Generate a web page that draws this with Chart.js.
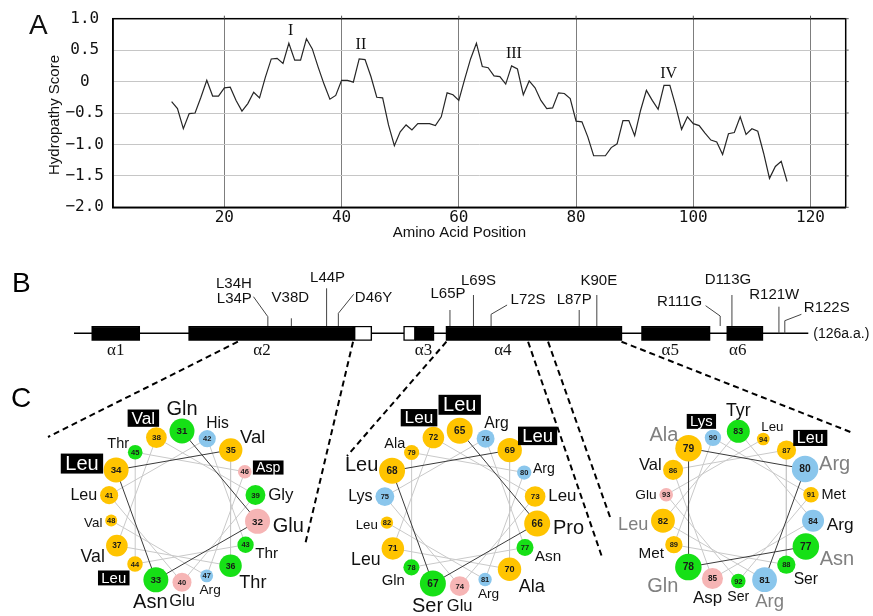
<!DOCTYPE html>
<html><head><meta charset="utf-8">
<script src="https://cdn.jsdelivr.net/npm/chart.js@4.4.1/dist/chart.umd.min.js"></script>
<style>
html,body{margin:0;padding:0;background:#fff;width:873px;height:616px;overflow:hidden;}
canvas{position:absolute;}
</style></head><body>
<canvas id="cA" width="873" height="250" style="left:0;top:0"></canvas>
<canvas id="cB" width="873" height="361" style="left:0;top:255px"></canvas>
<canvas id="cW1" width="280" height="231" style="left:40px;top:385px"></canvas>
<canvas id="cW2" width="280" height="231" style="left:320px;top:385px"></canvas>
<canvas id="cW3" width="273" height="231" style="left:600px;top:385px"></canvas>
<script>
// ---------------- Panel A : hydropathy plot ----------------
const positions = [11,12,13,14,15,16,17,18,19,20,21,22,23,24,25,26,27,28,29,30,
  31,32,33,34,35,36,37,38,39,40,41,42,43,44,45,46,47,48,49,50,
  51,52,53,54,55,56,57,58,59,60,61,62,63,64,65,66,67,68,69,70,
  71,72,73,74,75,76,77,78,79,80,81,82,83,84,85,86,87,88,89,90,
  91,92,93,94,95,96,97,98,99,100,101,102,103,104,105,106,107,108,109,110,
  111,112,113,114,115,116];
const hydropathy = [-0.32,-0.43,-0.75,-0.51,-0.50,-0.25,0.02,-0.23,-0.23,-0.10,
  -0.09,-0.30,-0.47,-0.35,-0.17,-0.26,0.07,0.36,0.37,0.29,
  0.61,0.34,0.34,0.68,0.52,0.23,-0.04,-0.28,-0.22,0.02,
  0.02,-0.01,0.36,0.35,0.08,-0.25,-0.26,-0.69,-1.02,-0.80,
  -0.69,-0.77,-0.67,-0.67,-0.67,-0.70,-0.56,-0.18,-0.21,-0.30,
  0.04,0.36,0.61,0.24,0.22,0.09,0.08,-0.04,0.25,0.20,
  -0.21,0.01,-0.10,-0.30,-0.43,-0.42,-0.18,-0.19,-0.27,-0.63,
  -0.64,-0.88,-1.18,-1.18,-1.18,-1.05,-0.99,-0.62,-0.62,-0.86,
  -0.46,-0.14,-0.30,-0.44,-0.06,-0.06,-0.39,-0.76,-0.56,-0.67,
  -0.70,-0.82,-0.93,-0.96,-1.16,-0.83,-0.81,-0.56,-0.84,-0.75,
  -0.79,-1.14,-1.54,-1.35,-1.27,-1.59];
const xTicks = [20,40,60,80,100,120];
const yTicks = [1.0,0.5,0,-0.5,-1.0,-1.5,-2.0];
const peakLabels = ['I','II','III','IV'];
const peakPos = [31.3,43.3,69.4,95.8];
const peakVal = [0.81,0.585,0.44,0.13];
const xTitle = 'Amino Acid Position';
const yTitle = 'Hydropathy Score';

// ---------------- Panel B : domain map ----------------
const chainLength = 126;
const helixNames = ['α1','α2','α3','α4','α5','α6'];
const helixStart = [4,20.5,59.1,64.3,97.6,112.1];
const helixEnd = [12.2,48.7,62.3,94.3,109.3,118.3];
const openStart = [48.7,57.1];
const openEnd = [51.7,59.1];
const mutations = ['L34H','L34P','V38D','L44P','D46Y','L65P','L69S','L72S','L87P','K90E','R111G','D113G','R121W','R122S'];

// ---------------- Panel C : helical wheels ----------------
const wheel1First = 31;
const wheel1Names = ['Gln','Glu','Asn','Leu','Val','Thr','Val','Val','Gly','Glu','Leu','His','Thr','Leu','Thr','Asp','Arg','Val'];
const wheel2First = 65;
const wheel2Names = ['Leu','Pro','Ser','Leu','Leu','Ala','Leu','Leu','Leu','Glu','Lys','Arg','Asn','Gln','Ala','Arg','Arg','Leu'];
const wheel3First = 77;
const wheel3Names = ['Asn','Gln','Ala','Arg','Arg','Leu','Tyr','Arg','Asp','Val','Leu','Ser','Met','Lys','Met','Ser','Glu','Leu'];

// ---------------- styles ----------------
const SANS = '"Liberation Sans", Arial, sans-serif';
const SERIF = '"Liberation Serif", "Times New Roman", serif';
const MONO = '"DejaVu Sans Mono", monospace';
const classColor = {h:'#FFC400', p:'#16E016', a:'#F6B5B5', b:'#8AC6EC'};
const residueClass = {Leu:'h',Val:'h',Ala:'h',Pro:'h',Met:'h',Ile:'h',Phe:'h',
  Gln:'p',Asn:'p',Thr:'p',Gly:'p',Ser:'p',Tyr:'p',Glu:'a',Asp:'a',Arg:'b',Lys:'b',His:'b'};
const mutResidues = mutations.map(m => parseInt(m.slice(1), 10));

Chart.defaults.font.family = SANS;

// ---------- Chart A ----------
const frameA = {
  id: 'frameA',
  afterDraw(chart) {
    const {ctx, chartArea: a, scales: {x, y}} = chart;
    ctx.save();
    ctx.strokeStyle = '#000'; ctx.lineWidth = 1.5;
    ctx.strokeRect(a.left, a.top, a.right - a.left, a.bottom - a.top);
    ctx.lineWidth = 1; ctx.strokeStyle = '#555';
    xTicks.forEach(v => { const px = x.getPixelForValue(v); ctx.beginPath(); ctx.moveTo(px, a.top - 3); ctx.lineTo(px, a.top); ctx.stroke(); });
    yTicks.forEach(v => { const py = y.getPixelForValue(v); ctx.beginPath(); ctx.moveTo(a.right, py); ctx.lineTo(a.right + 3, py); ctx.stroke(); });
    ctx.fillStyle = '#111'; ctx.font = '15px ' + SANS;
    ctx.textAlign = 'center'; ctx.textBaseline = 'middle';
    ctx.fillText(xTitle, (a.left + a.right) / 2 - 20, 233);
    ctx.save(); ctx.translate(55, (a.top + a.bottom) / 2 + 2); ctx.rotate(-Math.PI / 2);
    ctx.fillText(yTitle, 0, 0); ctx.restore();
    ctx.font = '16px ' + SERIF;
    peakLabels.forEach((t, i) => ctx.fillText(t, x.getPixelForValue(peakPos[i]), y.getPixelForValue(peakVal[i])));
    ctx.font = '28px ' + SANS; ctx.textAlign = 'left';
    ctx.fillText('A', 29, 26);
    ctx.restore();
  }
};

new Chart(document.getElementById('cA'), {
  type: 'line',
  data: {datasets: [{
    data: positions.map((p, i) => ({x: p, y: hydropathy[i]})),
    borderColor: '#262626', borderWidth: 1.2, pointRadius: 0, tension: 0, fill: false
  }]},
  options: {
    responsive: false, animation: false, devicePixelRatio: 1,
    layout: {padding: {left: 0, top: 18.7, right: 27.3, bottom: 12.7}},
    plugins: {legend: {display: false}, tooltip: {enabled: false}},
    scales: {
      x: {type: 'linear', min: 1, max: 126,
        afterBuildTicks: s => { s.ticks = xTicks.map(v => ({value: v})); },
        afterFit: s => { s.height = 30; },
        grid: {color: '#7d7d7d', lineWidth: 1, drawTicks: false},
        border: {display: true, color: '#000', width: 1.5},
        ticks: {padding: 1, color: '#111', font: {family: MONO, size: 16}}},
      y: {type: 'linear', min: -2, max: 1,
        afterBuildTicks: s => { s.ticks = yTicks.map(v => ({value: v})); },
        afterFit: s => { s.width = 113; },
        grid: {color: '#c6c6c6', lineWidth: 1, drawTicks: false},
        border: {display: true, color: '#000', width: 1.5},
        ticks: {crossAlign: 'center', padding: 9, color: '#111', font: {family: MONO, size: 16},
          callback: v => v === 0 ? '0' : v.toFixed(1).replace('-', '−')}}
    }
  },
  plugins: [frameA]
});

// ---------- Chart B ----------
// label layout for each mutated residue (canvas px, style only)
const markerStyle = {
  34: {stem: 61.7, leader: [-14.4, 41.7], text: [-16, [29, 44]], align: 'right'},
  38: {stem: 63.3, text: [-1, [42.8]], align: 'center'},
  44: {stem: 33.3, text: [1, [23.3]], align: 'center'},
  46: {stem: 58.3, leader: [15.3, 39.3], text: [16.5, [42.8]], align: 'left'},
  65: {stem: 55, text: [-2, [39]], align: 'center'},
  69: {stem: 40, text: [5, [26]], align: 'center'},
  72: {stem: 59.3, leader: [16, 50], text: [19.5, [45]], align: 'left'},
  87: {stem: 55, text: [-5, [45]], align: 'center'},
  90: {stem: 40, text: [2, [26]], align: 'center'},
  111: {stem: 61, leader: [-14.6, 50.7], text: [-18, [46.7]], align: 'right'},
  113: {stem: 40, text: [-4, [25]], align: 'center'},
  121: {stem: 51.7, onLine: true, text: [-4.7, [40]], align: 'center'},
  122: {stem: 65.7, onLine: true, leader: [16.6, 59.3], text: [19, [53.3]], align: 'left'}
};
const helixLabelAt = [8.1, 33, 60.5, 74, 102.5, 114];
const dashStart = [28.9, 48.5, 64.4, 78.3, 81.7, 94.2];
const dashEnd = [[48, 182], [305, 290], [347, 201], [602, 302], [610, 262], [853, 178]];

const boxes = [];
const boxColors = [];
helixStart.forEach((s, i) => { boxes.push({x: [s, helixEnd[i]], y: 'chain'}); boxColors.push('#000'); });
openStart.forEach((s, i) => { boxes.push({x: [s, openEnd[i]], y: 'chain'}); boxColors.push('#fff'); });

const chainPlugin = {
  id: 'chain',
  beforeDatasetsDraw(chart) {
    const {ctx, chartArea: a, scales: {x}} = chart;
    const yc = (a.top + a.bottom) / 2;
    ctx.save(); ctx.strokeStyle = '#000'; ctx.lineWidth = 1.5;
    ctx.beginPath(); ctx.moveTo(x.getPixelForValue(1), yc); ctx.lineTo(x.getPixelForValue(chainLength), yc); ctx.stroke();
    ctx.restore();
  },
  afterDatasetsDraw(chart) {
    const {ctx, chartArea: a, scales: {x}} = chart;
    const yc = (a.top + a.bottom) / 2;
    ctx.save();
    const groups = {};
    mutations.forEach((m, i) => { (groups[mutResidues[i]] = groups[mutResidues[i]] || []).push(m); });
    ctx.font = '15px ' + SANS; ctx.textBaseline = 'middle'; ctx.fillStyle = '#111';
    Object.keys(groups).forEach(k => {
      const st = markerStyle[k]; const px = x.getPixelForValue(+k);
      ctx.strokeStyle = '#444'; ctx.lineWidth = 1;
      ctx.beginPath(); ctx.moveTo(px, st.onLine ? yc : a.top); ctx.lineTo(px, st.stem);
      if (st.leader) ctx.lineTo(px + st.leader[0], st.leader[1]);
      ctx.stroke();
      ctx.textAlign = st.align;
      groups[k].forEach((t, j) => ctx.fillText(t, px + st.text[0], st.text[1][j]));
    });
    ctx.font = '14px ' + SANS; ctx.textAlign = 'left';
    ctx.fillText('(' + chainLength + 'a.a.)', x.getPixelForValue(chainLength) + 5, yc + 1);
    ctx.font = '17px ' + SERIF; ctx.textAlign = 'center';
    helixNames.forEach((n, i) => ctx.fillText(n, x.getPixelForValue(helixLabelAt[i]), a.bottom + 10));
    ctx.strokeStyle = '#000'; ctx.lineWidth = 2; ctx.setLineDash([6, 4]);
    dashStart.forEach((r, i) => {
      ctx.beginPath(); ctx.moveTo(x.getPixelForValue(r), a.bottom + 1); ctx.lineTo(dashEnd[i][0], dashEnd[i][1]); ctx.stroke();
    });
    ctx.setLineDash([]);
    ctx.font = '28px ' + SANS; ctx.textAlign = 'left'; ctx.fillStyle = '#000';
    ctx.fillText('B', 12, 29);
    ctx.fillText('C', 11, 144);
    ctx.restore();
  }
};

new Chart(document.getElementById('cB'), {
  type: 'bar',
  data: {labels: ['chain'], datasets: [{
    data: boxes, backgroundColor: boxColors, borderColor: '#000', borderWidth: 1.5,
    borderSkipped: false, barPercentage: 1, categoryPercentage: 1
  }]},
  options: {
    indexAxis: 'y', responsive: false, animation: false, devicePixelRatio: 1,
    layout: {padding: {left: 74, right: 64.7, top: 71, bottom: 275.3}},
    plugins: {legend: {display: false}, tooltip: {enabled: false}},
    scales: {x: {type: 'linear', min: 1, max: chainLength, display: false}, y: {display: false}}
  },
  plugins: [chainPlugin]
});

// ---------- Charts C : helical wheels ----------
function makeWheel(id, first, names, geo, grayResidues) {
  const canvas = document.getElementById(id);
  const W = canvas.width, H = canvas.height;
  const pts = names.map((n, i) => {
    const ang = (geo.startAngle + 100 * i) * Math.PI / 180;
    const R = geo.ring - 0.3 * i;
    const r = (i < 4 ? 12.5 : 11.7 - 0.44 * (i - 4)) * geo.scale;
    return {x: R * Math.cos(ang), y: R * Math.sin(ang), r: r, ang: ang};
  });
  // Chart.js reserves the largest bubble radius around the plot area; keep 1 unit = 1 px
  const m = Math.max(...pts.map(p => p.r));
  const labelPlugin = {
    id: 'wheelLabels',
    afterDatasetsDraw(chart) {
      const ctx = chart.ctx;
      const meta = chart.getDatasetMeta(0);
      ctx.save();
      pts.forEach((p, i) => {
        const el = meta.data[i];
        const res = first + i;
        const nf = Math.max(7.5, p.r * 0.78);
        ctx.font = 'bold ' + nf.toFixed(1) + 'px ' + SANS;
        ctx.fillStyle = '#1a1a1a'; ctx.textAlign = 'center'; ctx.textBaseline = 'middle';
        ctx.fillText(String(res), el.x, el.y + 0.5);
        const fs = i < 4 ? 20 : 18.5 - 0.4 * (i - 4);
        const boxed = mutResidues.includes(res);
        ctx.font = fs.toFixed(1) + 'px ' + SANS;
        const tw = ctx.measureText(names[i]).width;
        const w = tw + (boxed ? fs * 0.45 : 0);
        const h = boxed ? fs * 1.0 : fs * 0.75;
        const c = Math.cos(p.ang), s = Math.sin(p.ang);
        let ce;
        if (Math.abs(s) > 0.9) ce = s < 0 ? Math.sign(c) * Math.pow(Math.abs(c), 0.75) : c * 0.5;
        else ce = Math.sign(c) * Math.sqrt(Math.abs(c));
        const se = s > 0 ? s : -s * s;
        const gap = 3;
        const tx = el.x + ce * (p.r + gap + w / 2);
        const ty = el.y + se * (p.r + gap + h / 2);
        if (boxed) {
          ctx.fillStyle = '#000';
          ctx.fillRect(tx - w / 2, ty - h / 2, w, h);
          ctx.fillStyle = '#fff';
        } else {
          ctx.fillStyle = grayResidues.includes(res) ? '#808080' : '#111';
        }
        ctx.fillText(names[i], tx, ty + fs * 0.05);
      });
      ctx.restore();
    }
  };
  new Chart(canvas, {
    type: 'bubble',
    data: {datasets: [
      {type: 'bubble', data: pts.map(p => ({x: p.x, y: p.y, r: p.r})),
        backgroundColor: names.map(n => classColor[residueClass[n]]), borderWidth: 0, order: 0},
      {type: 'line', data: pts.slice(0, 5).map(p => ({x: p.x, y: p.y})),
        borderColor: '#3a3a3a', borderWidth: 1, pointRadius: 0, tension: 0, fill: false, order: 1},
      {type: 'line', data: pts.slice(4).map(p => ({x: p.x, y: p.y})),
        borderColor: '#c9c9c9', borderWidth: 1, pointRadius: 0, tension: 0, fill: false, order: 2}
    ]},
    options: {
      responsive: false, animation: false, devicePixelRatio: 1,
      layout: {padding: 0},
      plugins: {legend: {display: false}, tooltip: {enabled: false}},
      scales: {
        x: {type: 'linear', display: false, min: -(geo.cx - m), max: (W - m) - geo.cx},
        y: {type: 'linear', display: false, reverse: true, min: -(geo.cy - m), max: (H - m) - geo.cy}
      }
    },
    plugins: [labelPlugin]
  });
}

const wheel1Res = wheel1Names.map((n, i) => wheel1First + i);
const wheel2Res = wheel2Names.map((n, i) => wheel2First + i);
makeWheel('cW1', wheel1First, wheel1Names, {cx: 142, cy: 123, ring: 77, startAngle: -90, scale: 1}, []);
makeWheel('cW2', wheel2First, wheel2Names, {cx: 139.7, cy: 124.8, ring: 79, startAngle: -90, scale: 1.04}, wheel1Res);
makeWheel('cW3', wheel3First, wheel3Names, {cx: 138.3, cy: 122.5, ring: 78, startAngle: 30, scale: 1.06}, wheel2Res);
</script>
</body></html>
